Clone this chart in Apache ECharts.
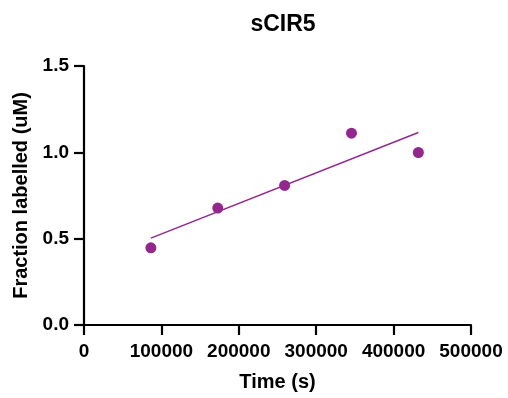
<!DOCTYPE html>
<html>
<head>
<meta charset="utf-8">
<script src="https://cdn.jsdelivr.net/npm/echarts@6/dist/echarts.min.js"></script>
<style>
  html, body { margin: 0; padding: 0; background: #fff; }
  #chart { width: 508px; height: 398px; }
</style>
</head>
<body>
<div id="chart"></div>
<script>
// time points (s) and measured fraction labelled (uM)
const timeSec = [86400, 172800, 259200, 345600, 432000];
const fraction = [0.447, 0.677, 0.808, 1.111, 0.999];
// fitted line endpoints
const fitX = [86400, 432000];
const fitY = [0.503, 1.115];

const purple = "#93278F";
const font = "Liberation Sans, Arial, sans-serif";

const chart = echarts.init(document.getElementById("chart"));
chart.setOption({
    animation: false,
    title: {
        text: "sCIR5",
        left: 278,
        textAlign: "center",
        top: 8,
        textStyle: { fontFamily: font, fontSize: 23, fontWeight: "bold", color: "#000" }
    },
    grid: { left: 84, right: 37, top: 66, bottom: 73 },
    xAxis: {
        type: "value",
        min: 0, max: 500000, interval: 100000,
        name: "Time (s)",
        nameLocation: "middle",
        nameGap: 47,
        nameTextStyle: { fontFamily: font, fontSize: 20, fontWeight: "bold", color: "#000" },
        axisLine: { show: true, lineStyle: { color: "#000", width: 2.2 } },
        axisTick: { show: true, length: 10, lineStyle: { color: "#000", width: 2.2 } },
        axisLabel: {
            fontFamily: font, fontSize: 19, fontWeight: "bold", color: "#000", margin: 17,
            formatter: v => String(v)
        },
        splitLine: { show: false }
    },
    yAxis: {
        type: "value",
        min: 0, max: 1.5, interval: 0.5,
        name: "Fraction labelled (uM)",
        nameLocation: "middle",
        nameGap: 52,
        nameTextStyle: { fontFamily: font, fontSize: 20, fontWeight: "bold", color: "#000" },
        axisLine: { show: true, lineStyle: { color: "#000", width: 2.2 } },
        axisTick: { show: true, length: 10, lineStyle: { color: "#000", width: 2.2 } },
        axisLabel: {
            fontFamily: font, fontSize: 19, fontWeight: "bold", color: "#000", margin: 15,
            formatter: v => v.toFixed(1)
        },
        splitLine: { show: false }
    },
    series: [
        {
            type: "line",
            data: fitX.map((x, i) => [x, fitY[i]]),
            showSymbol: false,
            lineStyle: { color: purple, width: 1.5 },
            silent: true
        },
        {
            type: "scatter",
            data: timeSec.map((x, i) => [x, fraction[i]]),
            symbolSize: 11,
            itemStyle: { color: purple, opacity: 1 }
        }
    ]
});
</script>
</body>
</html>
